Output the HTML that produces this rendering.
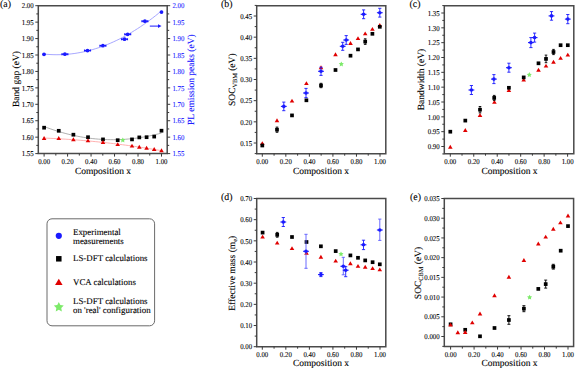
<!DOCTYPE html>
<html><head><meta charset="utf-8"><style>
html,body{margin:0;padding:0;background:#fff;width:575px;height:368px;overflow:hidden}
svg{display:block}
text{font-family:"Liberation Serif", serif;fill:#000;stroke:#000;stroke-width:0.1px;text-rendering:geometricPrecision} .bl{fill:#2020ff;stroke:#2020ff}
</style></head><body>
<svg width="575" height="368" viewBox="0 0 575 368">
<rect width="575" height="368" fill="#fff"/>
<path d="M38.3,5.7 H167.2 V153.6 H38.3 Z" fill="none" stroke="#4a4a4a" stroke-width="1.5"/>
<line x1="44.10" y1="153.6" x2="44.10" y2="156.6" stroke="#3a3a3a" stroke-width="1"/>
<text transform="translate(44.10,164.1) scale(0.95,1.04)" text-anchor="middle" font-size="7.2">0.00</text>
<line x1="55.84" y1="153.6" x2="55.84" y2="155.6" stroke="#3a3a3a" stroke-width="1"/>
<line x1="67.58" y1="153.6" x2="67.58" y2="156.6" stroke="#3a3a3a" stroke-width="1"/>
<text transform="translate(67.58,164.1) scale(0.95,1.04)" text-anchor="middle" font-size="7.2">0.20</text>
<line x1="79.32" y1="153.6" x2="79.32" y2="155.6" stroke="#3a3a3a" stroke-width="1"/>
<line x1="91.06" y1="153.6" x2="91.06" y2="156.6" stroke="#3a3a3a" stroke-width="1"/>
<text transform="translate(91.06,164.1) scale(0.95,1.04)" text-anchor="middle" font-size="7.2">0.40</text>
<line x1="102.80" y1="153.6" x2="102.80" y2="155.6" stroke="#3a3a3a" stroke-width="1"/>
<line x1="114.54" y1="153.6" x2="114.54" y2="156.6" stroke="#3a3a3a" stroke-width="1"/>
<text transform="translate(114.54,164.1) scale(0.95,1.04)" text-anchor="middle" font-size="7.2">0.60</text>
<line x1="126.28" y1="153.6" x2="126.28" y2="155.6" stroke="#3a3a3a" stroke-width="1"/>
<line x1="138.02" y1="153.6" x2="138.02" y2="156.6" stroke="#3a3a3a" stroke-width="1"/>
<text transform="translate(138.02,164.1) scale(0.95,1.04)" text-anchor="middle" font-size="7.2">0.80</text>
<line x1="149.76" y1="153.6" x2="149.76" y2="155.6" stroke="#3a3a3a" stroke-width="1"/>
<line x1="161.50" y1="153.6" x2="161.50" y2="156.6" stroke="#3a3a3a" stroke-width="1"/>
<text transform="translate(161.50,164.1) scale(0.95,1.04)" text-anchor="middle" font-size="7.2">1.00</text>
<line x1="35.3" y1="153.60" x2="38.3" y2="153.60" stroke="#3a3a3a" stroke-width="1"/>
<text transform="translate(33.699999999999996,156.30) scale(0.95,1.04)" text-anchor="end" font-size="7.2">1.55</text>
<line x1="36.3" y1="145.38" x2="38.3" y2="145.38" stroke="#3a3a3a" stroke-width="1"/>
<line x1="35.3" y1="137.17" x2="38.3" y2="137.17" stroke="#3a3a3a" stroke-width="1"/>
<text transform="translate(33.699999999999996,139.87) scale(0.95,1.04)" text-anchor="end" font-size="7.2">1.60</text>
<line x1="36.3" y1="128.95" x2="38.3" y2="128.95" stroke="#3a3a3a" stroke-width="1"/>
<line x1="35.3" y1="120.73" x2="38.3" y2="120.73" stroke="#3a3a3a" stroke-width="1"/>
<text transform="translate(33.699999999999996,123.43) scale(0.95,1.04)" text-anchor="end" font-size="7.2">1.65</text>
<line x1="36.3" y1="112.52" x2="38.3" y2="112.52" stroke="#3a3a3a" stroke-width="1"/>
<line x1="35.3" y1="104.30" x2="38.3" y2="104.30" stroke="#3a3a3a" stroke-width="1"/>
<text transform="translate(33.699999999999996,107.00) scale(0.95,1.04)" text-anchor="end" font-size="7.2">1.70</text>
<line x1="36.3" y1="96.08" x2="38.3" y2="96.08" stroke="#3a3a3a" stroke-width="1"/>
<line x1="35.3" y1="87.87" x2="38.3" y2="87.87" stroke="#3a3a3a" stroke-width="1"/>
<text transform="translate(33.699999999999996,90.57) scale(0.95,1.04)" text-anchor="end" font-size="7.2">1.75</text>
<line x1="36.3" y1="79.65" x2="38.3" y2="79.65" stroke="#3a3a3a" stroke-width="1"/>
<line x1="35.3" y1="71.43" x2="38.3" y2="71.43" stroke="#3a3a3a" stroke-width="1"/>
<text transform="translate(33.699999999999996,74.13) scale(0.95,1.04)" text-anchor="end" font-size="7.2">1.80</text>
<line x1="36.3" y1="63.22" x2="38.3" y2="63.22" stroke="#3a3a3a" stroke-width="1"/>
<line x1="35.3" y1="55.00" x2="38.3" y2="55.00" stroke="#3a3a3a" stroke-width="1"/>
<text transform="translate(33.699999999999996,57.70) scale(0.95,1.04)" text-anchor="end" font-size="7.2">1.85</text>
<line x1="36.3" y1="46.78" x2="38.3" y2="46.78" stroke="#3a3a3a" stroke-width="1"/>
<line x1="35.3" y1="38.57" x2="38.3" y2="38.57" stroke="#3a3a3a" stroke-width="1"/>
<text transform="translate(33.699999999999996,41.27) scale(0.95,1.04)" text-anchor="end" font-size="7.2">1.90</text>
<line x1="36.3" y1="30.35" x2="38.3" y2="30.35" stroke="#3a3a3a" stroke-width="1"/>
<line x1="35.3" y1="22.13" x2="38.3" y2="22.13" stroke="#3a3a3a" stroke-width="1"/>
<text transform="translate(33.699999999999996,24.83) scale(0.95,1.04)" text-anchor="end" font-size="7.2">1.95</text>
<line x1="36.3" y1="13.92" x2="38.3" y2="13.92" stroke="#3a3a3a" stroke-width="1"/>
<line x1="35.3" y1="5.70" x2="38.3" y2="5.70" stroke="#3a3a3a" stroke-width="1"/>
<text transform="translate(33.699999999999996,8.40) scale(0.95,1.04)" text-anchor="end" font-size="7.2">2.00</text>
<line x1="167.2" y1="153.60" x2="170.2" y2="153.60" stroke="#3a3a3a" stroke-width="1"/>
<text transform="translate(172.4,156.30) scale(0.95,1.04)" font-size="7.2" class="bl">1.55</text>
<line x1="167.2" y1="145.38" x2="169.2" y2="145.38" stroke="#3a3a3a" stroke-width="1"/>
<line x1="167.2" y1="137.17" x2="170.2" y2="137.17" stroke="#3a3a3a" stroke-width="1"/>
<text transform="translate(172.4,139.87) scale(0.95,1.04)" font-size="7.2" class="bl">1.60</text>
<line x1="167.2" y1="128.95" x2="169.2" y2="128.95" stroke="#3a3a3a" stroke-width="1"/>
<line x1="167.2" y1="120.73" x2="170.2" y2="120.73" stroke="#3a3a3a" stroke-width="1"/>
<text transform="translate(172.4,123.43) scale(0.95,1.04)" font-size="7.2" class="bl">1.65</text>
<line x1="167.2" y1="112.52" x2="169.2" y2="112.52" stroke="#3a3a3a" stroke-width="1"/>
<line x1="167.2" y1="104.30" x2="170.2" y2="104.30" stroke="#3a3a3a" stroke-width="1"/>
<text transform="translate(172.4,107.00) scale(0.95,1.04)" font-size="7.2" class="bl">1.70</text>
<line x1="167.2" y1="96.08" x2="169.2" y2="96.08" stroke="#3a3a3a" stroke-width="1"/>
<line x1="167.2" y1="87.87" x2="170.2" y2="87.87" stroke="#3a3a3a" stroke-width="1"/>
<text transform="translate(172.4,90.57) scale(0.95,1.04)" font-size="7.2" class="bl">1.75</text>
<line x1="167.2" y1="79.65" x2="169.2" y2="79.65" stroke="#3a3a3a" stroke-width="1"/>
<line x1="167.2" y1="71.43" x2="170.2" y2="71.43" stroke="#3a3a3a" stroke-width="1"/>
<text transform="translate(172.4,74.13) scale(0.95,1.04)" font-size="7.2" class="bl">1.80</text>
<line x1="167.2" y1="63.22" x2="169.2" y2="63.22" stroke="#3a3a3a" stroke-width="1"/>
<line x1="167.2" y1="55.00" x2="170.2" y2="55.00" stroke="#3a3a3a" stroke-width="1"/>
<text transform="translate(172.4,57.70) scale(0.95,1.04)" font-size="7.2" class="bl">1.85</text>
<line x1="167.2" y1="46.78" x2="169.2" y2="46.78" stroke="#3a3a3a" stroke-width="1"/>
<line x1="167.2" y1="38.57" x2="170.2" y2="38.57" stroke="#3a3a3a" stroke-width="1"/>
<text transform="translate(172.4,41.27) scale(0.95,1.04)" font-size="7.2" class="bl">1.90</text>
<line x1="167.2" y1="30.35" x2="169.2" y2="30.35" stroke="#3a3a3a" stroke-width="1"/>
<line x1="167.2" y1="22.13" x2="170.2" y2="22.13" stroke="#3a3a3a" stroke-width="1"/>
<text transform="translate(172.4,24.83) scale(0.95,1.04)" font-size="7.2" class="bl">1.95</text>
<line x1="167.2" y1="13.92" x2="169.2" y2="13.92" stroke="#3a3a3a" stroke-width="1"/>
<line x1="167.2" y1="5.70" x2="170.2" y2="5.70" stroke="#3a3a3a" stroke-width="1"/>
<text transform="translate(172.4,8.40) scale(0.95,1.04)" font-size="7.2" class="bl">2.00</text>
<text x="0" y="7.0" font-size="9.9">(a)</text>
<text x="221" y="7.0" font-size="9.9">(b)</text>
<text x="409.5" y="7.2" font-size="9.9">(c)</text>
<text x="221" y="199.5" font-size="9.9">(d)</text>
<text x="410" y="199.5" font-size="9.9">(e)</text>
<path d="M256.7,5.7 H385.8 V153.7 H256.7 Z" fill="none" stroke="#4a4a4a" stroke-width="1.5"/>
<line x1="262.30" y1="153.7" x2="262.30" y2="156.7" stroke="#3a3a3a" stroke-width="1"/>
<text transform="translate(262.30,164.2) scale(0.95,1.04)" text-anchor="middle" font-size="7.2">0.00</text>
<line x1="274.07" y1="153.7" x2="274.07" y2="155.7" stroke="#3a3a3a" stroke-width="1"/>
<line x1="285.84" y1="153.7" x2="285.84" y2="156.7" stroke="#3a3a3a" stroke-width="1"/>
<text transform="translate(285.84,164.2) scale(0.95,1.04)" text-anchor="middle" font-size="7.2">0.20</text>
<line x1="297.61" y1="153.7" x2="297.61" y2="155.7" stroke="#3a3a3a" stroke-width="1"/>
<line x1="309.38" y1="153.7" x2="309.38" y2="156.7" stroke="#3a3a3a" stroke-width="1"/>
<text transform="translate(309.38,164.2) scale(0.95,1.04)" text-anchor="middle" font-size="7.2">0.40</text>
<line x1="321.15" y1="153.7" x2="321.15" y2="155.7" stroke="#3a3a3a" stroke-width="1"/>
<line x1="332.92" y1="153.7" x2="332.92" y2="156.7" stroke="#3a3a3a" stroke-width="1"/>
<text transform="translate(332.92,164.2) scale(0.95,1.04)" text-anchor="middle" font-size="7.2">0.60</text>
<line x1="344.69" y1="153.7" x2="344.69" y2="155.7" stroke="#3a3a3a" stroke-width="1"/>
<line x1="356.46" y1="153.7" x2="356.46" y2="156.7" stroke="#3a3a3a" stroke-width="1"/>
<text transform="translate(356.46,164.2) scale(0.95,1.04)" text-anchor="middle" font-size="7.2">0.80</text>
<line x1="368.23" y1="153.7" x2="368.23" y2="155.7" stroke="#3a3a3a" stroke-width="1"/>
<line x1="380.00" y1="153.7" x2="380.00" y2="156.7" stroke="#3a3a3a" stroke-width="1"/>
<text transform="translate(380.00,164.2) scale(0.95,1.04)" text-anchor="middle" font-size="7.2">1.00</text>
<line x1="254.7" y1="153.58" x2="256.7" y2="153.58" stroke="#3a3a3a" stroke-width="1"/>
<line x1="253.7" y1="143.00" x2="256.7" y2="143.00" stroke="#3a3a3a" stroke-width="1"/>
<text transform="translate(252.1,145.70) scale(0.95,1.04)" text-anchor="end" font-size="7.2">0.15</text>
<line x1="254.7" y1="132.42" x2="256.7" y2="132.42" stroke="#3a3a3a" stroke-width="1"/>
<line x1="253.7" y1="121.83" x2="256.7" y2="121.83" stroke="#3a3a3a" stroke-width="1"/>
<text transform="translate(252.1,124.53) scale(0.95,1.04)" text-anchor="end" font-size="7.2">0.20</text>
<line x1="254.7" y1="111.25" x2="256.7" y2="111.25" stroke="#3a3a3a" stroke-width="1"/>
<line x1="253.7" y1="100.67" x2="256.7" y2="100.67" stroke="#3a3a3a" stroke-width="1"/>
<text transform="translate(252.1,103.37) scale(0.95,1.04)" text-anchor="end" font-size="7.2">0.25</text>
<line x1="254.7" y1="90.08" x2="256.7" y2="90.08" stroke="#3a3a3a" stroke-width="1"/>
<line x1="253.7" y1="79.50" x2="256.7" y2="79.50" stroke="#3a3a3a" stroke-width="1"/>
<text transform="translate(252.1,82.20) scale(0.95,1.04)" text-anchor="end" font-size="7.2">0.30</text>
<line x1="254.7" y1="68.92" x2="256.7" y2="68.92" stroke="#3a3a3a" stroke-width="1"/>
<line x1="253.7" y1="58.33" x2="256.7" y2="58.33" stroke="#3a3a3a" stroke-width="1"/>
<text transform="translate(252.1,61.03) scale(0.95,1.04)" text-anchor="end" font-size="7.2">0.35</text>
<line x1="254.7" y1="47.75" x2="256.7" y2="47.75" stroke="#3a3a3a" stroke-width="1"/>
<line x1="253.7" y1="37.17" x2="256.7" y2="37.17" stroke="#3a3a3a" stroke-width="1"/>
<text transform="translate(252.1,39.87) scale(0.95,1.04)" text-anchor="end" font-size="7.2">0.40</text>
<line x1="254.7" y1="26.58" x2="256.7" y2="26.58" stroke="#3a3a3a" stroke-width="1"/>
<line x1="253.7" y1="16.00" x2="256.7" y2="16.00" stroke="#3a3a3a" stroke-width="1"/>
<text transform="translate(252.1,18.70) scale(0.95,1.04)" text-anchor="end" font-size="7.2">0.45</text>
<line x1="254.7" y1="5.42" x2="256.7" y2="5.42" stroke="#3a3a3a" stroke-width="1"/>
<path d="M444.3,5.7 H573.8 V153.7 H444.3 Z" fill="none" stroke="#4a4a4a" stroke-width="1.5"/>
<line x1="450.30" y1="153.7" x2="450.30" y2="156.7" stroke="#3a3a3a" stroke-width="1"/>
<text transform="translate(450.30,164.2) scale(0.95,1.04)" text-anchor="middle" font-size="7.2">0.00</text>
<line x1="462.03" y1="153.7" x2="462.03" y2="155.7" stroke="#3a3a3a" stroke-width="1"/>
<line x1="473.76" y1="153.7" x2="473.76" y2="156.7" stroke="#3a3a3a" stroke-width="1"/>
<text transform="translate(473.76,164.2) scale(0.95,1.04)" text-anchor="middle" font-size="7.2">0.20</text>
<line x1="485.49" y1="153.7" x2="485.49" y2="155.7" stroke="#3a3a3a" stroke-width="1"/>
<line x1="497.22" y1="153.7" x2="497.22" y2="156.7" stroke="#3a3a3a" stroke-width="1"/>
<text transform="translate(497.22,164.2) scale(0.95,1.04)" text-anchor="middle" font-size="7.2">0.40</text>
<line x1="508.95" y1="153.7" x2="508.95" y2="155.7" stroke="#3a3a3a" stroke-width="1"/>
<line x1="520.68" y1="153.7" x2="520.68" y2="156.7" stroke="#3a3a3a" stroke-width="1"/>
<text transform="translate(520.68,164.2) scale(0.95,1.04)" text-anchor="middle" font-size="7.2">0.60</text>
<line x1="532.41" y1="153.7" x2="532.41" y2="155.7" stroke="#3a3a3a" stroke-width="1"/>
<line x1="544.14" y1="153.7" x2="544.14" y2="156.7" stroke="#3a3a3a" stroke-width="1"/>
<text transform="translate(544.14,164.2) scale(0.95,1.04)" text-anchor="middle" font-size="7.2">0.80</text>
<line x1="555.87" y1="153.7" x2="555.87" y2="155.7" stroke="#3a3a3a" stroke-width="1"/>
<line x1="567.60" y1="153.7" x2="567.60" y2="156.7" stroke="#3a3a3a" stroke-width="1"/>
<text transform="translate(567.60,164.2) scale(0.95,1.04)" text-anchor="middle" font-size="7.2">1.00</text>
<line x1="442.3" y1="153.92" x2="444.3" y2="153.92" stroke="#3a3a3a" stroke-width="1"/>
<line x1="441.3" y1="146.50" x2="444.3" y2="146.50" stroke="#3a3a3a" stroke-width="1"/>
<text transform="translate(439.7,149.20) scale(0.95,1.04)" text-anchor="end" font-size="7.2">0.90</text>
<line x1="442.3" y1="139.08" x2="444.3" y2="139.08" stroke="#3a3a3a" stroke-width="1"/>
<line x1="441.3" y1="131.67" x2="444.3" y2="131.67" stroke="#3a3a3a" stroke-width="1"/>
<text transform="translate(439.7,134.37) scale(0.95,1.04)" text-anchor="end" font-size="7.2">0.95</text>
<line x1="442.3" y1="124.25" x2="444.3" y2="124.25" stroke="#3a3a3a" stroke-width="1"/>
<line x1="441.3" y1="116.83" x2="444.3" y2="116.83" stroke="#3a3a3a" stroke-width="1"/>
<text transform="translate(439.7,119.53) scale(0.95,1.04)" text-anchor="end" font-size="7.2">1.00</text>
<line x1="442.3" y1="109.42" x2="444.3" y2="109.42" stroke="#3a3a3a" stroke-width="1"/>
<line x1="441.3" y1="102.00" x2="444.3" y2="102.00" stroke="#3a3a3a" stroke-width="1"/>
<text transform="translate(439.7,104.70) scale(0.95,1.04)" text-anchor="end" font-size="7.2">1.05</text>
<line x1="442.3" y1="94.58" x2="444.3" y2="94.58" stroke="#3a3a3a" stroke-width="1"/>
<line x1="441.3" y1="87.17" x2="444.3" y2="87.17" stroke="#3a3a3a" stroke-width="1"/>
<text transform="translate(439.7,89.87) scale(0.95,1.04)" text-anchor="end" font-size="7.2">1.10</text>
<line x1="442.3" y1="79.75" x2="444.3" y2="79.75" stroke="#3a3a3a" stroke-width="1"/>
<line x1="441.3" y1="72.33" x2="444.3" y2="72.33" stroke="#3a3a3a" stroke-width="1"/>
<text transform="translate(439.7,75.03) scale(0.95,1.04)" text-anchor="end" font-size="7.2">1.15</text>
<line x1="442.3" y1="64.92" x2="444.3" y2="64.92" stroke="#3a3a3a" stroke-width="1"/>
<line x1="441.3" y1="57.50" x2="444.3" y2="57.50" stroke="#3a3a3a" stroke-width="1"/>
<text transform="translate(439.7,60.20) scale(0.95,1.04)" text-anchor="end" font-size="7.2">1.20</text>
<line x1="442.3" y1="50.08" x2="444.3" y2="50.08" stroke="#3a3a3a" stroke-width="1"/>
<line x1="441.3" y1="42.67" x2="444.3" y2="42.67" stroke="#3a3a3a" stroke-width="1"/>
<text transform="translate(439.7,45.37) scale(0.95,1.04)" text-anchor="end" font-size="7.2">1.25</text>
<line x1="442.3" y1="35.25" x2="444.3" y2="35.25" stroke="#3a3a3a" stroke-width="1"/>
<line x1="441.3" y1="27.83" x2="444.3" y2="27.83" stroke="#3a3a3a" stroke-width="1"/>
<text transform="translate(439.7,30.53) scale(0.95,1.04)" text-anchor="end" font-size="7.2">1.30</text>
<line x1="442.3" y1="20.42" x2="444.3" y2="20.42" stroke="#3a3a3a" stroke-width="1"/>
<line x1="441.3" y1="13.00" x2="444.3" y2="13.00" stroke="#3a3a3a" stroke-width="1"/>
<text transform="translate(439.7,15.70) scale(0.95,1.04)" text-anchor="end" font-size="7.2">1.35</text>
<line x1="442.3" y1="5.58" x2="444.3" y2="5.58" stroke="#3a3a3a" stroke-width="1"/>
<path d="M256.7,198.5 H385.8 V346.7 H256.7 Z" fill="none" stroke="#4a4a4a" stroke-width="1.5"/>
<line x1="262.30" y1="346.7" x2="262.30" y2="349.7" stroke="#3a3a3a" stroke-width="1"/>
<text transform="translate(262.30,357.2) scale(0.95,1.04)" text-anchor="middle" font-size="7.2">0.00</text>
<line x1="274.07" y1="346.7" x2="274.07" y2="348.7" stroke="#3a3a3a" stroke-width="1"/>
<line x1="285.84" y1="346.7" x2="285.84" y2="349.7" stroke="#3a3a3a" stroke-width="1"/>
<text transform="translate(285.84,357.2) scale(0.95,1.04)" text-anchor="middle" font-size="7.2">0.20</text>
<line x1="297.61" y1="346.7" x2="297.61" y2="348.7" stroke="#3a3a3a" stroke-width="1"/>
<line x1="309.38" y1="346.7" x2="309.38" y2="349.7" stroke="#3a3a3a" stroke-width="1"/>
<text transform="translate(309.38,357.2) scale(0.95,1.04)" text-anchor="middle" font-size="7.2">0.40</text>
<line x1="321.15" y1="346.7" x2="321.15" y2="348.7" stroke="#3a3a3a" stroke-width="1"/>
<line x1="332.92" y1="346.7" x2="332.92" y2="349.7" stroke="#3a3a3a" stroke-width="1"/>
<text transform="translate(332.92,357.2) scale(0.95,1.04)" text-anchor="middle" font-size="7.2">0.60</text>
<line x1="344.69" y1="346.7" x2="344.69" y2="348.7" stroke="#3a3a3a" stroke-width="1"/>
<line x1="356.46" y1="346.7" x2="356.46" y2="349.7" stroke="#3a3a3a" stroke-width="1"/>
<text transform="translate(356.46,357.2) scale(0.95,1.04)" text-anchor="middle" font-size="7.2">0.80</text>
<line x1="368.23" y1="346.7" x2="368.23" y2="348.7" stroke="#3a3a3a" stroke-width="1"/>
<line x1="380.00" y1="346.7" x2="380.00" y2="349.7" stroke="#3a3a3a" stroke-width="1"/>
<text transform="translate(380.00,357.2) scale(0.95,1.04)" text-anchor="middle" font-size="7.2">1.00</text>
<line x1="253.7" y1="346.70" x2="256.7" y2="346.70" stroke="#3a3a3a" stroke-width="1"/>
<text transform="translate(252.1,349.40) scale(0.95,1.04)" text-anchor="end" font-size="7.2">0.00</text>
<line x1="254.7" y1="336.11" x2="256.7" y2="336.11" stroke="#3a3a3a" stroke-width="1"/>
<line x1="253.7" y1="325.53" x2="256.7" y2="325.53" stroke="#3a3a3a" stroke-width="1"/>
<text transform="translate(252.1,328.23) scale(0.95,1.04)" text-anchor="end" font-size="7.2">0.10</text>
<line x1="254.7" y1="314.94" x2="256.7" y2="314.94" stroke="#3a3a3a" stroke-width="1"/>
<line x1="253.7" y1="304.36" x2="256.7" y2="304.36" stroke="#3a3a3a" stroke-width="1"/>
<text transform="translate(252.1,307.06) scale(0.95,1.04)" text-anchor="end" font-size="7.2">0.20</text>
<line x1="254.7" y1="293.77" x2="256.7" y2="293.77" stroke="#3a3a3a" stroke-width="1"/>
<line x1="253.7" y1="283.19" x2="256.7" y2="283.19" stroke="#3a3a3a" stroke-width="1"/>
<text transform="translate(252.1,285.89) scale(0.95,1.04)" text-anchor="end" font-size="7.2">0.30</text>
<line x1="254.7" y1="272.60" x2="256.7" y2="272.60" stroke="#3a3a3a" stroke-width="1"/>
<line x1="253.7" y1="262.01" x2="256.7" y2="262.01" stroke="#3a3a3a" stroke-width="1"/>
<text transform="translate(252.1,264.71) scale(0.95,1.04)" text-anchor="end" font-size="7.2">0.40</text>
<line x1="254.7" y1="251.43" x2="256.7" y2="251.43" stroke="#3a3a3a" stroke-width="1"/>
<line x1="253.7" y1="240.84" x2="256.7" y2="240.84" stroke="#3a3a3a" stroke-width="1"/>
<text transform="translate(252.1,243.54) scale(0.95,1.04)" text-anchor="end" font-size="7.2">0.50</text>
<line x1="254.7" y1="230.26" x2="256.7" y2="230.26" stroke="#3a3a3a" stroke-width="1"/>
<line x1="253.7" y1="219.67" x2="256.7" y2="219.67" stroke="#3a3a3a" stroke-width="1"/>
<text transform="translate(252.1,222.37) scale(0.95,1.04)" text-anchor="end" font-size="7.2">0.60</text>
<line x1="254.7" y1="209.09" x2="256.7" y2="209.09" stroke="#3a3a3a" stroke-width="1"/>
<line x1="253.7" y1="198.50" x2="256.7" y2="198.50" stroke="#3a3a3a" stroke-width="1"/>
<text transform="translate(252.1,201.20) scale(0.95,1.04)" text-anchor="end" font-size="7.2">0.70</text>
<path d="M444.3,198.5 H573.6 V346.6 H444.3 Z" fill="none" stroke="#4a4a4a" stroke-width="1.5"/>
<line x1="450.60" y1="346.6" x2="450.60" y2="349.6" stroke="#3a3a3a" stroke-width="1"/>
<text transform="translate(450.60,357.1) scale(0.95,1.04)" text-anchor="middle" font-size="7.2">0.00</text>
<line x1="462.34" y1="346.6" x2="462.34" y2="348.6" stroke="#3a3a3a" stroke-width="1"/>
<line x1="474.08" y1="346.6" x2="474.08" y2="349.6" stroke="#3a3a3a" stroke-width="1"/>
<text transform="translate(474.08,357.1) scale(0.95,1.04)" text-anchor="middle" font-size="7.2">0.20</text>
<line x1="485.82" y1="346.6" x2="485.82" y2="348.6" stroke="#3a3a3a" stroke-width="1"/>
<line x1="497.56" y1="346.6" x2="497.56" y2="349.6" stroke="#3a3a3a" stroke-width="1"/>
<text transform="translate(497.56,357.1) scale(0.95,1.04)" text-anchor="middle" font-size="7.2">0.40</text>
<line x1="509.30" y1="346.6" x2="509.30" y2="348.6" stroke="#3a3a3a" stroke-width="1"/>
<line x1="521.04" y1="346.6" x2="521.04" y2="349.6" stroke="#3a3a3a" stroke-width="1"/>
<text transform="translate(521.04,357.1) scale(0.95,1.04)" text-anchor="middle" font-size="7.2">0.60</text>
<line x1="532.78" y1="346.6" x2="532.78" y2="348.6" stroke="#3a3a3a" stroke-width="1"/>
<line x1="544.52" y1="346.6" x2="544.52" y2="349.6" stroke="#3a3a3a" stroke-width="1"/>
<text transform="translate(544.52,357.1) scale(0.95,1.04)" text-anchor="middle" font-size="7.2">0.80</text>
<line x1="556.26" y1="346.6" x2="556.26" y2="348.6" stroke="#3a3a3a" stroke-width="1"/>
<line x1="568.00" y1="346.6" x2="568.00" y2="349.6" stroke="#3a3a3a" stroke-width="1"/>
<text transform="translate(568.00,357.1) scale(0.95,1.04)" text-anchor="middle" font-size="7.2">1.00</text>
<line x1="442.3" y1="346.36" x2="444.3" y2="346.36" stroke="#3a3a3a" stroke-width="1"/>
<line x1="441.3" y1="336.50" x2="444.3" y2="336.50" stroke="#3a3a3a" stroke-width="1"/>
<text transform="translate(439.7,339.20) scale(0.95,1.04)" text-anchor="end" font-size="7.2">0.000</text>
<line x1="442.3" y1="326.64" x2="444.3" y2="326.64" stroke="#3a3a3a" stroke-width="1"/>
<line x1="441.3" y1="316.79" x2="444.3" y2="316.79" stroke="#3a3a3a" stroke-width="1"/>
<text transform="translate(439.7,319.49) scale(0.95,1.04)" text-anchor="end" font-size="7.2">0.005</text>
<line x1="442.3" y1="306.93" x2="444.3" y2="306.93" stroke="#3a3a3a" stroke-width="1"/>
<line x1="441.3" y1="297.07" x2="444.3" y2="297.07" stroke="#3a3a3a" stroke-width="1"/>
<text transform="translate(439.7,299.77) scale(0.95,1.04)" text-anchor="end" font-size="7.2">0.010</text>
<line x1="442.3" y1="287.21" x2="444.3" y2="287.21" stroke="#3a3a3a" stroke-width="1"/>
<line x1="441.3" y1="277.36" x2="444.3" y2="277.36" stroke="#3a3a3a" stroke-width="1"/>
<text transform="translate(439.7,280.06) scale(0.95,1.04)" text-anchor="end" font-size="7.2">0.015</text>
<line x1="442.3" y1="267.50" x2="444.3" y2="267.50" stroke="#3a3a3a" stroke-width="1"/>
<line x1="441.3" y1="257.64" x2="444.3" y2="257.64" stroke="#3a3a3a" stroke-width="1"/>
<text transform="translate(439.7,260.34) scale(0.95,1.04)" text-anchor="end" font-size="7.2">0.020</text>
<line x1="442.3" y1="247.79" x2="444.3" y2="247.79" stroke="#3a3a3a" stroke-width="1"/>
<line x1="441.3" y1="237.93" x2="444.3" y2="237.93" stroke="#3a3a3a" stroke-width="1"/>
<text transform="translate(439.7,240.63) scale(0.95,1.04)" text-anchor="end" font-size="7.2">0.025</text>
<line x1="442.3" y1="228.07" x2="444.3" y2="228.07" stroke="#3a3a3a" stroke-width="1"/>
<line x1="441.3" y1="218.21" x2="444.3" y2="218.21" stroke="#3a3a3a" stroke-width="1"/>
<text transform="translate(439.7,220.91) scale(0.95,1.04)" text-anchor="end" font-size="7.2">0.030</text>
<line x1="442.3" y1="208.36" x2="444.3" y2="208.36" stroke="#3a3a3a" stroke-width="1"/>
<line x1="441.3" y1="198.50" x2="444.3" y2="198.50" stroke="#3a3a3a" stroke-width="1"/>
<text transform="translate(439.7,201.20) scale(0.95,1.04)" text-anchor="end" font-size="7.2">0.035</text>
<text x="103" y="173.8" text-anchor="middle" font-size="9.5">Composition x</text>
<text x="321" y="173.8" text-anchor="middle" font-size="9.5">Composition x</text>
<text x="509.5" y="173.8" text-anchor="middle" font-size="9.5">Composition x</text>
<text x="321" y="366" text-anchor="middle" font-size="9.5">Composition x</text>
<text x="509.5" y="366" text-anchor="middle" font-size="9.5">Composition x</text>
<text transform="translate(18.5,79) rotate(-90)" text-anchor="middle" font-size="9.5" class="">Band gap (eV)</text>
<text transform="translate(194.0,79.6) rotate(-90)" text-anchor="middle" font-size="9.5" class="bl">PL emission peaks (eV)</text>
<text transform="translate(234.5,79.7) rotate(-90)" text-anchor="middle" font-size="9.5" class="">SOC<tspan font-size="6.3" dy="2.5">VBM</tspan><tspan dy="-2.5"> (eV)</tspan></text>
<text transform="translate(424.1,79.5) rotate(-90)" text-anchor="middle" font-size="9.5" class="">Bandwidth (eV)</text>
<text transform="translate(234.5,273.3) rotate(-90)" text-anchor="middle" font-size="9.5" class="">Effective mass (m<tspan font-size="6.3" dy="2.5">e</tspan><tspan dy="-2.5">)</tspan></text>
<text transform="translate(420.9,273) rotate(-90)" text-anchor="middle" font-size="9.5" class="">SOC<tspan font-size="6.3" dy="2.5">CBM</tspan><tspan dy="-2.5"> (eV)</tspan></text>
<path d="M44.00,54.07 L47.01,54.34 L50.03,54.54 L53.04,54.66 L56.05,54.72 L59.06,54.70 L62.08,54.61 L65.09,54.44 L68.10,54.21 L71.12,53.90 L74.13,53.52 L77.14,53.06 L80.15,52.53 L83.17,51.94 L86.18,51.26 L89.19,50.52 L92.21,49.70 L95.22,48.81 L98.23,47.85 L101.24,46.81 L104.26,45.71 L107.27,44.53 L110.28,43.27 L113.29,41.95 L116.31,40.55 L119.32,39.08 L122.33,37.53 L125.35,35.92 L128.36,34.23 L131.37,32.47 L134.38,30.64 L137.40,28.73 L140.41,26.75 L143.42,24.70 L146.44,22.57 L149.45,20.38 L152.46,18.11 L155.47,15.77 L158.49,13.35 L161.50,10.87" stroke="#9090ff" stroke-width="0.8" fill="none"/>
<path d="M44.10,126.54 L47.11,127.67 L50.12,128.75 L53.13,129.78 L56.14,130.76 L59.15,131.68 L62.16,132.56 L65.17,133.39 L68.18,134.16 L71.19,134.88 L74.20,135.56 L77.21,136.18 L80.22,136.75 L83.23,137.27 L86.24,137.74 L89.25,138.16 L92.26,138.53 L95.27,138.85 L98.28,139.12 L101.29,139.34 L104.31,139.50 L107.32,139.62 L110.33,139.68 L113.34,139.70 L116.35,139.66 L119.36,139.57 L122.37,139.44 L125.38,139.25 L128.39,139.01 L131.40,138.72 L134.41,138.38 L137.42,137.99 L140.43,137.54 L143.44,137.05 L146.45,136.51 L149.46,135.91 L152.47,135.27 L155.48,134.57 L158.49,133.83 L161.50,133.03" stroke="#9a9a9a" stroke-width="0.8" fill="none"/>
<path d="M44.10,138.06 L47.11,138.18 L50.12,138.32 L53.13,138.47 L56.14,138.62 L59.15,138.79 L62.16,138.97 L65.17,139.15 L68.18,139.35 L71.19,139.56 L74.20,139.78 L77.21,140.01 L80.22,140.25 L83.23,140.50 L86.24,140.76 L89.25,141.03 L92.26,141.32 L95.27,141.61 L98.28,141.91 L101.29,142.22 L104.31,142.55 L107.32,142.88 L110.33,143.23 L113.34,143.58 L116.35,143.95 L119.36,144.32 L122.37,144.71 L125.38,145.11 L128.39,145.51 L131.40,145.93 L134.41,146.36 L137.42,146.80 L140.43,147.25 L143.44,147.71 L146.45,148.18 L149.46,148.66 L152.47,149.15 L155.48,149.65 L158.49,150.16 L161.50,150.68" stroke="#ff9c9c" stroke-width="0.8" fill="none"/>
<circle cx="44.00" cy="54.30" r="1.9" fill="#1a1aff"/>
<path d="M62.00,54.20 H67.80 M62.00,53.20 V55.20 M67.80,53.20 V55.20" stroke="#1a1aff" stroke-width="1.3" fill="none"/>
<circle cx="64.90" cy="54.20" r="1.9" fill="#1a1aff"/>
<path d="M84.60,50.60 H90.40 M84.60,49.60 V51.60 M90.40,49.60 V51.60" stroke="#1a1aff" stroke-width="1.3" fill="none"/>
<circle cx="87.50" cy="50.60" r="1.9" fill="#1a1aff"/>
<path d="M100.00,45.70 H105.80 M100.00,44.70 V46.70 M105.80,44.70 V46.70" stroke="#1a1aff" stroke-width="1.3" fill="none"/>
<circle cx="102.90" cy="45.70" r="1.9" fill="#1a1aff"/>
<path d="M121.60,39.20 H127.40 M121.60,38.20 V40.20 M127.40,38.20 V40.20" stroke="#1a1aff" stroke-width="1.3" fill="none"/>
<circle cx="124.50" cy="39.20" r="1.9" fill="#1a1aff"/>
<path d="M124.80,34.30 H130.60 M124.80,33.30 V35.30 M130.60,33.30 V35.30" stroke="#1a1aff" stroke-width="1.3" fill="none"/>
<circle cx="127.70" cy="34.30" r="1.9" fill="#1a1aff"/>
<path d="M142.00,21.20 H147.80 M142.00,20.20 V22.20 M147.80,20.20 V22.20" stroke="#1a1aff" stroke-width="1.3" fill="none"/>
<circle cx="144.90" cy="21.20" r="1.9" fill="#1a1aff"/>
<circle cx="161.50" cy="12.10" r="1.9" fill="#1a1aff"/>
<path d="M149.8,26.1 H159" stroke="#1a1aff" stroke-width="1"/>
<path d="M161.5,26.1 L158,24.3 L158,27.9 Z" fill="#1a1aff"/>
<rect x="42.25" y="125.85" width="3.7" height="3.7" fill="#000"/>
<rect x="56.90" y="128.95" width="3.7" height="3.7" fill="#000"/>
<rect x="71.55" y="132.85" width="3.7" height="3.7" fill="#000"/>
<rect x="86.15" y="135.35" width="3.7" height="3.7" fill="#000"/>
<rect x="101.15" y="137.55" width="3.7" height="3.7" fill="#000"/>
<rect x="115.85" y="138.35" width="3.7" height="3.7" fill="#000"/>
<rect x="130.15" y="137.55" width="3.7" height="3.7" fill="#000"/>
<rect x="137.45" y="135.55" width="3.7" height="3.7" fill="#000"/>
<rect x="144.75" y="135.35" width="3.7" height="3.7" fill="#000"/>
<rect x="152.35" y="134.75" width="3.7" height="3.7" fill="#000"/>
<rect x="159.65" y="128.85" width="3.7" height="3.7" fill="#000"/>
<path d="M44.10,136.05 L46.40,139.96 L41.80,139.96 Z" fill="#e00000"/>
<path d="M58.75,136.05 L61.05,139.96 L56.45,139.96 Z" fill="#e00000"/>
<path d="M73.40,137.25 L75.70,141.16 L71.10,141.16 Z" fill="#e00000"/>
<path d="M88.00,138.45 L90.30,142.36 L85.70,142.36 Z" fill="#e00000"/>
<path d="M103.00,140.05 L105.30,143.96 L100.70,143.96 Z" fill="#e00000"/>
<path d="M117.70,142.15 L120.00,146.06 L115.40,146.06 Z" fill="#e00000"/>
<path d="M132.00,143.65 L134.30,147.56 L129.70,147.56 Z" fill="#e00000"/>
<path d="M139.30,144.85 L141.60,148.76 L137.00,148.76 Z" fill="#e00000"/>
<path d="M146.60,145.75 L148.90,149.66 L144.30,149.66 Z" fill="#e00000"/>
<path d="M154.20,147.05 L156.50,150.96 L151.90,150.96 Z" fill="#e00000"/>
<path d="M161.50,148.25 L163.80,152.16 L159.20,152.16 Z" fill="#e00000"/>
<polygon points="122.80,137.50 123.59,139.11 125.37,139.37 124.08,140.62 124.39,142.38 122.80,141.55 121.21,142.38 121.52,140.62 120.23,139.37 122.01,139.11" fill="#7dea6a"/>
<path d="M262.30,141.15 L264.60,145.06 L260.00,145.06 Z" fill="#e00000"/>
<path d="M277.00,118.35 L279.30,122.26 L274.70,122.26 Z" fill="#e00000"/>
<path d="M292.00,98.65 L294.30,102.56 L289.70,102.56 Z" fill="#e00000"/>
<path d="M306.40,81.15 L308.70,85.06 L304.10,85.06 Z" fill="#e00000"/>
<path d="M321.00,65.35 L323.30,69.26 L318.70,69.26 Z" fill="#e00000"/>
<path d="M335.50,52.35 L337.80,56.26 L333.20,56.26 Z" fill="#e00000"/>
<path d="M350.50,41.05 L352.80,44.96 L348.20,44.96 Z" fill="#e00000"/>
<path d="M358.00,36.15 L360.30,40.06 L355.70,40.06 Z" fill="#e00000"/>
<path d="M365.20,31.45 L367.50,35.36 L362.90,35.36 Z" fill="#e00000"/>
<path d="M372.40,26.95 L374.70,30.86 L370.10,30.86 Z" fill="#e00000"/>
<path d="M379.80,23.05 L382.10,26.96 L377.50,26.96 Z" fill="#e00000"/>
<rect x="260.45" y="143.65" width="3.7" height="3.7" fill="#000"/>
<rect x="275.15" y="127.85" width="3.7" height="3.7" fill="#000"/>
<rect x="290.15" y="113.55" width="3.7" height="3.7" fill="#000"/>
<rect x="304.55" y="98.45" width="3.7" height="3.7" fill="#000"/>
<rect x="319.15" y="83.65" width="3.7" height="3.7" fill="#000"/>
<rect x="333.65" y="68.15" width="3.7" height="3.7" fill="#000"/>
<rect x="348.65" y="53.85" width="3.7" height="3.7" fill="#000"/>
<rect x="356.15" y="47.55" width="3.7" height="3.7" fill="#000"/>
<rect x="363.35" y="39.75" width="3.7" height="3.7" fill="#000"/>
<rect x="370.55" y="31.95" width="3.7" height="3.7" fill="#000"/>
<rect x="377.95" y="24.95" width="3.7" height="3.7" fill="#000"/>
<polygon points="341.30,61.50 342.09,63.11 343.87,63.37 342.58,64.62 342.89,66.38 341.30,65.55 339.71,66.38 340.02,64.62 338.73,63.37 340.51,63.11" fill="#7dea6a"/>
<path d="M277.00,127.10 V132.30 M275.70,127.10 H278.30 M275.70,132.30 H278.30" stroke="#000" stroke-width="0.9" fill="none"/>
<path d="M321.00,83.30 V87.70 M319.70,83.30 H322.30 M319.70,87.70 H322.30" stroke="#000" stroke-width="0.9" fill="none"/>
<path d="M365.20,38.80 V44.40 M363.90,38.80 H366.50 M363.90,44.40 H366.50" stroke="#000" stroke-width="0.9" fill="none"/>
<path d="M283.80,102.10 V110.70 M282.20,102.10 H285.40 M282.20,110.70 H285.40" stroke="#1a1aff" stroke-width="0.9" fill="none"/>
<path d="M280.90,106.40 H286.70 M280.90,106.40 V106.40 M286.70,106.40 V106.40" stroke="#1a1aff" stroke-width="1.1" fill="none"/>
<circle cx="283.80" cy="106.40" r="1.8" fill="#1a1aff"/>
<path d="M306.00,88.40 V97.60 M304.40,88.40 H307.60 M304.40,97.60 H307.60" stroke="#1a1aff" stroke-width="0.9" fill="none"/>
<path d="M303.10,93.00 H308.90 M303.10,93.00 V93.00 M308.90,93.00 V93.00" stroke="#1a1aff" stroke-width="1.1" fill="none"/>
<circle cx="306.00" cy="93.00" r="1.8" fill="#1a1aff"/>
<path d="M321.00,67.20 V75.40 M319.40,67.20 H322.60 M319.40,75.40 H322.60" stroke="#1a1aff" stroke-width="0.9" fill="none"/>
<path d="M318.10,71.30 H323.90 M318.10,71.30 V71.30 M323.90,71.30 V71.30" stroke="#1a1aff" stroke-width="1.1" fill="none"/>
<circle cx="321.00" cy="71.30" r="1.8" fill="#1a1aff"/>
<path d="M342.70,42.30 V50.30 M341.10,42.30 H344.30 M341.10,50.30 H344.30" stroke="#1a1aff" stroke-width="0.9" fill="none"/>
<path d="M339.80,46.30 H345.60 M339.80,46.30 V46.30 M345.60,46.30 V46.30" stroke="#1a1aff" stroke-width="1.1" fill="none"/>
<circle cx="342.70" cy="46.30" r="1.8" fill="#1a1aff"/>
<path d="M346.20,35.60 V44.40 M344.60,35.60 H347.80 M344.60,44.40 H347.80" stroke="#1a1aff" stroke-width="0.9" fill="none"/>
<path d="M343.30,40.00 H349.10 M343.30,40.00 V40.00 M349.10,40.00 V40.00" stroke="#1a1aff" stroke-width="1.1" fill="none"/>
<circle cx="346.20" cy="40.00" r="1.8" fill="#1a1aff"/>
<path d="M363.60,9.90 V18.70 M362.00,9.90 H365.20 M362.00,18.70 H365.20" stroke="#1a1aff" stroke-width="0.9" fill="none"/>
<path d="M360.70,14.30 H366.50 M360.70,14.30 V14.30 M366.50,14.30 V14.30" stroke="#1a1aff" stroke-width="1.1" fill="none"/>
<circle cx="363.60" cy="14.30" r="1.8" fill="#1a1aff"/>
<path d="M379.80,8.30 V17.10 M378.20,8.30 H381.40 M378.20,17.10 H381.40" stroke="#1a1aff" stroke-width="0.9" fill="none"/>
<path d="M376.90,12.70 H382.70 M376.90,12.70 V12.70 M382.70,12.70 V12.70" stroke="#1a1aff" stroke-width="1.1" fill="none"/>
<circle cx="379.80" cy="12.70" r="1.8" fill="#1a1aff"/>
<path d="M450.30,144.85 L452.60,148.76 L448.00,148.76 Z" fill="#e00000"/>
<path d="M465.30,128.05 L467.60,131.96 L463.00,131.96 Z" fill="#e00000"/>
<path d="M480.00,113.05 L482.30,116.96 L477.70,116.96 Z" fill="#e00000"/>
<path d="M494.40,99.95 L496.70,103.86 L492.10,103.86 Z" fill="#e00000"/>
<path d="M508.90,88.15 L511.20,92.06 L506.60,92.06 Z" fill="#e00000"/>
<path d="M523.70,77.65 L526.00,81.56 L521.40,81.56 Z" fill="#e00000"/>
<path d="M538.50,67.85 L540.80,71.76 L536.20,71.76 Z" fill="#e00000"/>
<path d="M546.00,63.65 L548.30,67.56 L543.70,67.56 Z" fill="#e00000"/>
<path d="M553.50,59.85 L555.80,63.76 L551.20,63.76 Z" fill="#e00000"/>
<path d="M560.60,55.95 L562.90,59.86 L558.30,59.86 Z" fill="#e00000"/>
<path d="M567.80,52.65 L570.10,56.56 L565.50,56.56 Z" fill="#e00000"/>
<rect x="448.45" y="129.85" width="3.7" height="3.7" fill="#000"/>
<rect x="463.45" y="118.75" width="3.7" height="3.7" fill="#000"/>
<rect x="478.15" y="107.85" width="3.7" height="3.7" fill="#000"/>
<rect x="492.35" y="96.05" width="3.7" height="3.7" fill="#000"/>
<rect x="507.05" y="85.95" width="3.7" height="3.7" fill="#000"/>
<rect x="521.85" y="75.55" width="3.7" height="3.7" fill="#000"/>
<rect x="536.65" y="61.45" width="3.7" height="3.7" fill="#000"/>
<rect x="544.15" y="57.05" width="3.7" height="3.7" fill="#000"/>
<rect x="551.65" y="50.15" width="3.7" height="3.7" fill="#000"/>
<rect x="558.75" y="43.35" width="3.7" height="3.7" fill="#000"/>
<rect x="565.95" y="43.35" width="3.7" height="3.7" fill="#000"/>
<polygon points="529.30,72.10 530.09,73.71 531.87,73.97 530.58,75.22 530.89,76.98 529.30,76.15 527.71,76.98 528.02,75.22 526.73,73.97 528.51,73.71" fill="#7dea6a"/>
<path d="M480.00,106.50 V112.90 M478.70,106.50 H481.30 M478.70,112.90 H481.30" stroke="#000" stroke-width="0.9" fill="none"/>
<path d="M494.20,95.40 V100.40 M492.90,95.40 H495.50 M492.90,100.40 H495.50" stroke="#000" stroke-width="0.9" fill="none"/>
<path d="M546.00,55.10 V62.70 M544.70,55.10 H547.30 M544.70,62.70 H547.30" stroke="#000" stroke-width="0.9" fill="none"/>
<path d="M553.50,49.40 V54.60 M552.20,49.40 H554.80 M552.20,54.60 H554.80" stroke="#000" stroke-width="0.9" fill="none"/>
<path d="M471.40,85.50 V94.50 M469.80,85.50 H473.00 M469.80,94.50 H473.00" stroke="#1a1aff" stroke-width="0.9" fill="none"/>
<path d="M468.50,90.00 H474.30 M468.50,90.00 V90.00 M474.30,90.00 V90.00" stroke="#1a1aff" stroke-width="1.1" fill="none"/>
<circle cx="471.40" cy="90.00" r="1.8" fill="#1a1aff"/>
<path d="M493.90,74.60 V83.60 M492.30,74.60 H495.50 M492.30,83.60 H495.50" stroke="#1a1aff" stroke-width="0.9" fill="none"/>
<path d="M491.00,79.10 H496.80 M491.00,79.10 V79.10 M496.80,79.10 V79.10" stroke="#1a1aff" stroke-width="1.1" fill="none"/>
<circle cx="493.90" cy="79.10" r="1.8" fill="#1a1aff"/>
<path d="M508.90,63.20 V72.20 M507.30,63.20 H510.50 M507.30,72.20 H510.50" stroke="#1a1aff" stroke-width="0.9" fill="none"/>
<path d="M506.00,67.70 H511.80 M506.00,67.70 V67.70 M511.80,67.70 V67.70" stroke="#1a1aff" stroke-width="1.1" fill="none"/>
<circle cx="508.90" cy="67.70" r="1.8" fill="#1a1aff"/>
<path d="M530.90,37.60 V47.60 M529.30,37.60 H532.50 M529.30,47.60 H532.50" stroke="#1a1aff" stroke-width="0.9" fill="none"/>
<path d="M528.00,42.60 H533.80 M528.00,42.60 V42.60 M533.80,42.60 V42.60" stroke="#1a1aff" stroke-width="1.1" fill="none"/>
<circle cx="530.90" cy="42.60" r="1.8" fill="#1a1aff"/>
<path d="M534.60,33.10 V42.10 M533.00,33.10 H536.20 M533.00,42.10 H536.20" stroke="#1a1aff" stroke-width="0.9" fill="none"/>
<path d="M531.70,37.60 H537.50 M531.70,37.60 V37.60 M537.50,37.60 V37.60" stroke="#1a1aff" stroke-width="1.1" fill="none"/>
<circle cx="534.60" cy="37.60" r="1.8" fill="#1a1aff"/>
<path d="M551.50,11.60 V20.20 M549.90,11.60 H553.10 M549.90,20.20 H553.10" stroke="#1a1aff" stroke-width="0.9" fill="none"/>
<path d="M548.60,15.90 H554.40 M548.60,15.90 V15.90 M554.40,15.90 V15.90" stroke="#1a1aff" stroke-width="1.1" fill="none"/>
<circle cx="551.50" cy="15.90" r="1.8" fill="#1a1aff"/>
<path d="M567.80,14.50 V23.70 M566.20,14.50 H569.40 M566.20,23.70 H569.40" stroke="#1a1aff" stroke-width="0.9" fill="none"/>
<path d="M564.90,19.10 H570.70 M564.90,19.10 V19.10 M570.70,19.10 V19.10" stroke="#1a1aff" stroke-width="1.1" fill="none"/>
<circle cx="567.80" cy="19.10" r="1.8" fill="#1a1aff"/>
<path d="M262.60,234.65 L264.90,238.56 L260.30,238.56 Z" fill="#e00000"/>
<path d="M277.20,240.65 L279.50,244.56 L274.90,244.56 Z" fill="#e00000"/>
<path d="M292.00,246.15 L294.30,250.06 L289.70,250.06 Z" fill="#e00000"/>
<path d="M306.50,250.95 L308.80,254.86 L304.20,254.86 Z" fill="#e00000"/>
<path d="M320.90,254.85 L323.20,258.76 L318.60,258.76 Z" fill="#e00000"/>
<path d="M335.70,258.65 L338.00,262.56 L333.40,262.56 Z" fill="#e00000"/>
<path d="M350.40,261.35 L352.70,265.26 L348.10,265.26 Z" fill="#e00000"/>
<path d="M358.00,263.95 L360.30,267.86 L355.70,267.86 Z" fill="#e00000"/>
<path d="M365.20,264.85 L367.50,268.76 L362.90,268.76 Z" fill="#e00000"/>
<path d="M372.60,266.15 L374.90,270.06 L370.30,270.06 Z" fill="#e00000"/>
<path d="M379.80,267.45 L382.10,271.36 L377.50,271.36 Z" fill="#e00000"/>
<rect x="260.75" y="230.75" width="3.7" height="3.7" fill="#000"/>
<rect x="275.35" y="232.95" width="3.7" height="3.7" fill="#000"/>
<rect x="290.15" y="235.15" width="3.7" height="3.7" fill="#000"/>
<rect x="304.65" y="240.15" width="3.7" height="3.7" fill="#000"/>
<rect x="319.05" y="244.45" width="3.7" height="3.7" fill="#000"/>
<rect x="333.85" y="249.25" width="3.7" height="3.7" fill="#000"/>
<rect x="348.55" y="253.55" width="3.7" height="3.7" fill="#000"/>
<rect x="356.15" y="255.95" width="3.7" height="3.7" fill="#000"/>
<rect x="363.35" y="258.55" width="3.7" height="3.7" fill="#000"/>
<rect x="370.75" y="260.35" width="3.7" height="3.7" fill="#000"/>
<rect x="377.95" y="262.45" width="3.7" height="3.7" fill="#000"/>
<polygon points="341.00,251.40 341.79,253.01 343.57,253.27 342.28,254.52 342.59,256.28 341.00,255.45 339.41,256.28 339.72,254.52 338.43,253.27 340.21,253.01" fill="#7dea6a"/>
<path d="M277.20,232.40 V237.20 M275.90,232.40 H278.50 M275.90,237.20 H278.50" stroke="#000" stroke-width="0.9" fill="none"/>
<path d="M283.30,217.50 V226.50 M281.70,217.50 H284.90 M281.70,226.50 H284.90" stroke="#1a1aff" stroke-width="0.9" fill="none"/>
<path d="M280.40,222.00 H286.20 M280.40,222.00 V222.00 M286.20,222.00 V222.00" stroke="#1a1aff" stroke-width="1.1" fill="none"/>
<circle cx="283.30" cy="222.00" r="1.8" fill="#1a1aff"/>
<path d="M306.00,234.30 V268.30 M304.40,234.30 H307.60 M304.40,268.30 H307.60" stroke="#5a5aff" stroke-width="0.9" fill="none"/>
<path d="M303.10,251.30 H308.90 M303.10,251.30 V251.30 M308.90,251.30 V251.30" stroke="#1a1aff" stroke-width="1.1" fill="none"/>
<circle cx="306.00" cy="251.30" r="1.8" fill="#1a1aff"/>
<path d="M320.90,272.60 V276.60 M319.30,272.60 H322.50 M319.30,276.60 H322.50" stroke="#1a1aff" stroke-width="0.9" fill="none"/>
<path d="M318.00,274.60 H323.80 M318.00,274.60 V274.60 M323.80,274.60 V274.60" stroke="#1a1aff" stroke-width="1.1" fill="none"/>
<circle cx="320.90" cy="274.60" r="1.8" fill="#1a1aff"/>
<path d="M343.30,257.30 V274.80 M341.70,257.30 H344.90 M341.70,274.80 H344.90" stroke="#5a5aff" stroke-width="0.9" fill="none"/>
<path d="M340.40,266.30 H346.20 M340.40,266.30 V266.30 M346.20,266.30 V266.30" stroke="#1a1aff" stroke-width="1.1" fill="none"/>
<circle cx="343.30" cy="266.30" r="1.8" fill="#1a1aff"/>
<path d="M345.70,266.70 V276.70 M344.10,266.70 H347.30 M344.10,276.70 H347.30" stroke="#1a1aff" stroke-width="0.9" fill="none"/>
<path d="M342.80,270.20 H348.60 M342.80,270.20 V270.20 M348.60,270.20 V270.20" stroke="#1a1aff" stroke-width="1.1" fill="none"/>
<circle cx="345.70" cy="270.20" r="1.8" fill="#1a1aff"/>
<path d="M363.50,240.20 V249.60 M361.90,240.20 H365.10 M361.90,249.60 H365.10" stroke="#1a1aff" stroke-width="0.9" fill="none"/>
<path d="M360.60,244.80 H366.40 M360.60,244.80 V244.80 M366.40,244.80 V244.80" stroke="#1a1aff" stroke-width="1.1" fill="none"/>
<circle cx="363.50" cy="244.80" r="1.8" fill="#1a1aff"/>
<path d="M379.80,219.10 V240.40 M378.20,219.10 H381.40 M378.20,240.40 H381.40" stroke="#5a5aff" stroke-width="0.9" fill="none"/>
<path d="M376.90,230.00 H382.70 M376.90,230.00 V230.00 M382.70,230.00 V230.00" stroke="#1a1aff" stroke-width="1.1" fill="none"/>
<circle cx="379.80" cy="230.00" r="1.8" fill="#1a1aff"/>
<rect x="448.75" y="322.45" width="3.7" height="3.7" fill="#000"/>
<rect x="463.35" y="327.95" width="3.7" height="3.7" fill="#000"/>
<rect x="478.15" y="334.45" width="3.7" height="3.7" fill="#000"/>
<rect x="492.65" y="326.15" width="3.7" height="3.7" fill="#000"/>
<rect x="507.05" y="318.15" width="3.7" height="3.7" fill="#000"/>
<rect x="522.05" y="306.85" width="3.7" height="3.7" fill="#000"/>
<rect x="536.45" y="287.05" width="3.7" height="3.7" fill="#000"/>
<rect x="543.85" y="282.25" width="3.7" height="3.7" fill="#000"/>
<rect x="551.45" y="264.85" width="3.7" height="3.7" fill="#000"/>
<rect x="558.85" y="248.85" width="3.7" height="3.7" fill="#000"/>
<rect x="566.15" y="224.25" width="3.7" height="3.7" fill="#000"/>
<path d="M450.60,322.65 L452.90,326.56 L448.30,326.56 Z" fill="#e00000"/>
<path d="M457.80,330.25 L460.10,334.16 L455.50,334.16 Z" fill="#e00000"/>
<path d="M465.20,330.05 L467.50,333.96 L462.90,333.96 Z" fill="#e00000"/>
<path d="M472.30,320.45 L474.60,324.36 L470.00,324.36 Z" fill="#e00000"/>
<path d="M480.00,311.55 L482.30,315.46 L477.70,315.46 Z" fill="#e00000"/>
<path d="M494.50,293.35 L496.80,297.26 L492.20,297.26 Z" fill="#e00000"/>
<path d="M508.90,274.85 L511.20,278.76 L506.60,278.76 Z" fill="#e00000"/>
<path d="M523.90,258.05 L526.20,261.96 L521.60,261.96 Z" fill="#e00000"/>
<path d="M538.30,241.55 L540.60,245.46 L536.00,245.46 Z" fill="#e00000"/>
<path d="M545.70,234.65 L548.00,238.56 L543.40,238.56 Z" fill="#e00000"/>
<path d="M553.30,226.75 L555.60,230.66 L551.00,230.66 Z" fill="#e00000"/>
<path d="M560.40,220.45 L562.70,224.36 L558.10,224.36 Z" fill="#e00000"/>
<path d="M568.00,213.55 L570.30,217.46 L565.70,217.46 Z" fill="#e00000"/>
<path d="M508.90,315.70 V324.30 M507.40,315.70 H510.40 M507.40,324.30 H510.40" stroke="#000" stroke-width="0.9" fill="none"/>
<path d="M523.90,305.70 V311.70 M522.40,305.70 H525.40 M522.40,311.70 H525.40" stroke="#000" stroke-width="0.9" fill="none"/>
<path d="M545.70,280.10 V288.10 M544.20,280.10 H547.20 M544.20,288.10 H547.20" stroke="#000" stroke-width="0.9" fill="none"/>
<path d="M553.30,264.30 V269.10 M551.80,264.30 H554.80 M551.80,269.10 H554.80" stroke="#000" stroke-width="0.9" fill="none"/>
<polygon points="529.60,294.70 530.39,296.31 532.17,296.57 530.88,297.82 531.19,299.58 529.60,298.75 528.01,299.58 528.32,297.82 527.03,296.57 528.81,296.31" fill="#7dea6a"/>
<rect x="47" y="218.8" width="107.6" height="107" rx="5" ry="5" fill="none" stroke="#6a6a6a" stroke-width="1"/>
<circle cx="58.80" cy="235.80" r="3.1" fill="#1a1aff"/>
<rect x="56.05" y="256.05" width="5.5" height="5.5" fill="#000"/>
<path d="M58.80,278.68 L62.55,285.05 L55.05,285.05 Z" fill="#e00000"/>
<polygon points="58.80,302.00 60.33,305.10 63.75,305.59 61.27,308.00 61.86,311.41 58.80,309.80 55.74,311.41 56.33,308.00 53.85,305.59 57.27,305.10" fill="#7dea6a"/>
<text x="73" y="234.6" font-size="8.9">Experimental</text>
<text x="73" y="243.6" font-size="8.9">measurements</text>
<text x="73" y="261.2" font-size="8.9">LS-DFT calculations</text>
<text x="73" y="284.8" font-size="8.9">VCA calculations</text>
<text x="73" y="304.2" font-size="8.9">LS-DFT calculations</text>
<text x="73" y="313.4" font-size="8.9">on 'real' configuration</text>
</svg>
</body></html>
